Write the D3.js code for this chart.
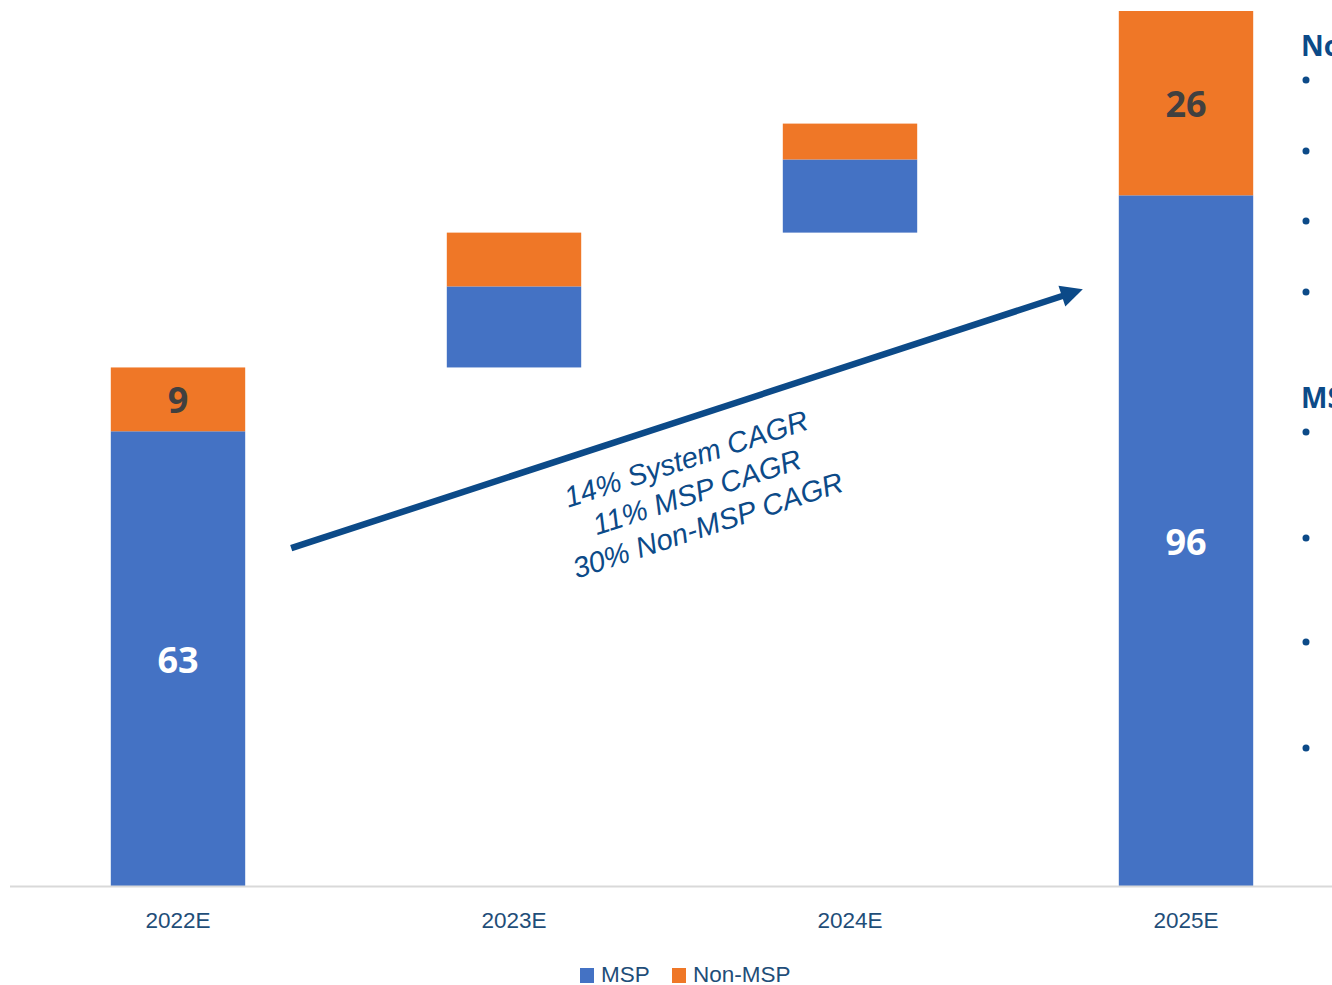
<!DOCTYPE html>
<html><head><meta charset="utf-8">
<script src="https://cdn.jsdelivr.net/npm/d3@7"></script>
<style>html,body{margin:0;padding:0;background:#fff;overflow:hidden}svg{display:block}</style>
</head><body>
<script>
const categories = ["2022E","2023E","2024E","2025E"];
const kinds = ["total","delta","delta","total"];
const mspValues = [63.4, 11.3, 10.2, 96.3];
const nonMspValues = [8.9, 7.5, 5.0, 25.7];
const seriesNames = ["MSP","Non-MSP"];
const showLabels = [true,false,false,true];
const cagrLines = ["14% System CAGR","11% MSP CAGR","30% Non-MSP CAGR"];
const sideHeadings = ["Non-MSP","MSP"];

const W = 1332, H = 985;
const colors = {msp:"#4472C4", non:"#EF7727", navy:"#0C4A88", tick:"#1F4E79"};

const svg = d3.select("body").append("svg").attr("width",W).attr("height",H);

const x = d3.scaleBand().domain(categories).range([10,1354]).paddingInner(0.6).paddingOuter(0.3);
const y = d3.scaleLinear().domain([0,122]).range([886,11]);

let running = 0;
const segs = [];
categories.forEach((c,i)=>{
  let base = kinds[i]==="total" ? 0 : running;
  const m0 = base, m1 = base + mspValues[i];
  const n0 = m1, n1 = m1 + nonMspValues[i];
  segs.push({cat:c, key:"msp", y0:m0, y1:m1, v:mspValues[i], label:showLabels[i]});
  segs.push({cat:c, key:"non", y0:n0, y1:n1, v:nonMspValues[i], label:showLabels[i]});
  running = n1;
});

svg.append("g").selectAll("rect").data(segs).join("rect")
  .attr("x", d=>x(d.cat)).attr("width", x.bandwidth())
  .attr("y", d=>y(d.y1)).attr("height", d=>y(d.y0)-y(d.y1))
  .attr("fill", d=>d.key==="msp"?colors.msp:colors.non);

svg.append("g").selectAll("text").data(segs.filter(d=>d.label)).join("text")
  .attr("x", d=>x(d.cat)+x.bandwidth()/2)
  .attr("y", d=>(y(d.y0)+y(d.y1))/2 + 14)
  .attr("text-anchor","middle")
  .style("font-family","'Open Sans', sans-serif").style("font-weight","700").style("font-size","36px")
  .attr("fill", d=>d.key==="msp"?"#ffffff":"#404040")
  .text(d=>Math.round(d.v));

const xAxis = d3.axisBottom(x).tickSize(0).tickPadding(0);
const ax = svg.append("g").attr("transform",`translate(0,${y(0)})`).call(xAxis);
ax.select(".domain").attr("d", `M10,0.5H1332`).attr("stroke","#D9D9D9").attr("stroke-width",2);
ax.selectAll(".tick text").attr("y",35).attr("dy","0.32em")
  .style("font-family","'Liberation Sans', Arial, sans-serif").style("font-size","22.5px").attr("fill",colors.tick);

// arrow annotation
const ax1 = x("2022E")+x.bandwidth()+46, ay1 = y(47.1);
const ax2 = x("2025E")-36, ay2 = y(83.2);
const ang = Math.atan2(ay2-ay1, ax2-ax1);
const hl = 22, hw = 11;
const cx = Math.cos(ang), sy = Math.sin(ang);
const bx = ax2 - hl*cx, by = ay2 - hl*sy;
svg.append("line").attr("x1",ax1).attr("y1",ay1).attr("x2",bx+2*cx).attr("y2",by+2*sy)
  .attr("stroke",colors.navy).attr("stroke-width",6.5);
svg.append("path")
  .attr("d",`M${ax2},${ay2}L${bx - hw*sy},${by + hw*cx}L${bx + hw*sy},${by - hw*cx}Z`)
  .attr("fill",colors.navy);

const tg = svg.append("g").attr("transform",`translate(697,492) rotate(${ang*180/Math.PI})`);
tg.selectAll("text").data(cagrLines).join("text")
  .attr("x",0).attr("y",(d,i)=>(i-1)*35+10)
  .attr("text-anchor","middle")
  .style("font-family","'Liberation Sans', Arial, sans-serif").style("font-style","italic").style("font-size","29px")
  .attr("fill",colors.navy).text(d=>d);

const lg = svg.append("g");
const legendItems = [{n:seriesNames[0],c:colors.msp,x:580},{n:seriesNames[1],c:colors.non,x:672}];
legendItems.forEach(it=>{
  lg.append("rect").attr("x",it.x).attr("y",968).attr("width",14).attr("height",15).attr("fill",it.c);
  lg.append("text").attr("x",it.x+21).attr("y",982)
    .style("font-family","'Liberation Sans', Arial, sans-serif").style("font-size","22.5px")
    .attr("fill",colors.tick).text(it.n);
});

const side = svg.append("g");
side.append("text").attr("x",1301).attr("y",56).text(sideHeadings[0])
  .style("font-family","'Open Sans', sans-serif").style("font-weight","700").style("font-size","28px").attr("fill",colors.navy);
side.append("text").attr("x",1301).attr("y",408).text(sideHeadings[1])
  .style("font-family","'Open Sans', sans-serif").style("font-weight","700").style("font-size","28px").attr("fill",colors.navy);
const bulletYs = [80,151,221,292,432,538,642,748];
side.selectAll("circle").data(bulletYs).join("circle")
  .attr("cx",1306).attr("cy",d=>d).attr("r",3.5).attr("fill",colors.navy);
</script>
</body></html>
